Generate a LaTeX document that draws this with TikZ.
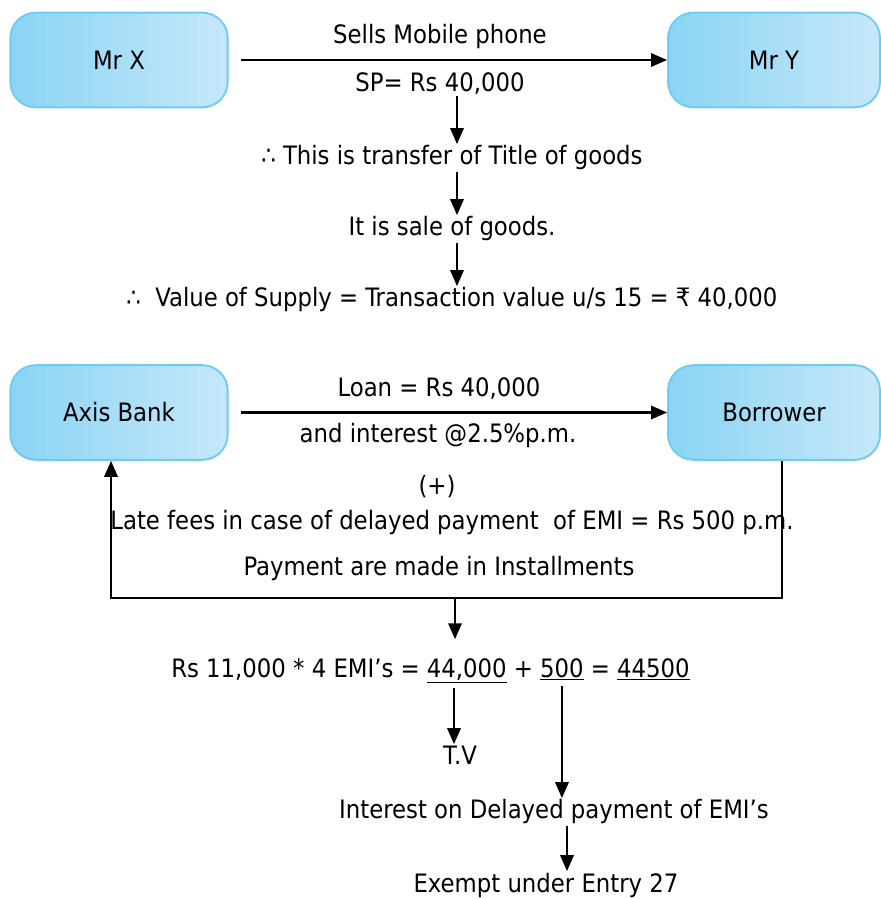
\documentclass[tikz,border=0pt]{standalone}
\usepackage{fontspec}
\setmainfont{DejaVu Sans Condensed}
\usetikzlibrary{arrows.meta,positioning,calc}
\definecolor{boxL}{HTML}{8AD4F5}
\definecolor{boxR}{HTML}{C6E8F9}
\definecolor{boxD}{HTML}{6FCCEF}
\tikzset{
  party/.style={draw=boxD, line width=1.4pt, left color=boxL, right color=boxR,
    rounded corners=19pt, minimum width=163pt, minimum height=71pt},
  txt/.style={inner sep=1pt},
  arr/.style={-{Triangle[length=12pt,width=10pt]}, line width=1.6pt},
  part/.style={inner sep=0pt, anchor=base west},
}

\begin{document}
\begin{tikzpicture}[x=0.75pt, y=-0.75pt, font=\fontsize{19}{23}\selectfont]
\useasboundingbox (0,0) rectangle (881,899);

%% Sale of mobile phone
\node[party] (mrX) at (119,60) {Mr X};
\node[party, minimum width=159pt] (mrY) at (774,60) {Mr Y};
\node[txt] (sells) at (440,37) {Sells Mobile phone};
\node[txt] (sp)    at (440,84) {SP= Rs 40,000};
\node[txt] (title) at (452,158) {∴ This is transfer of Title of goods};
\node[txt] (sale)  at (452,229) {It is sale of goods.};
\node[txt] (value) at (452,300) {∴\ \ Value of Supply = Transaction value u/s 15 = ₹ 40,000};

\coordinate (colX) at (457,0);
\draw[arr, shorten <=9pt] (mrX) -- (mrY);
\draw[arr] (sp.south -| colX) -- (title.north -| colX);
\draw[arr] (title.south -| colX) -- (sale.north -| colX);
\draw[arr] (sale.south -| colX) -- (value.north -| colX);

%% Loan from bank
\node[party] (axb) at (119,412.5) {Axis Bank};
\node[party, minimum width=159pt] (brw) at (774,412.5) {Borrower};
\node[txt] (loan) at (439,389) {Loan = Rs 40,000};
\node[txt] (intr) at (438,436) {and interest @2.5\%p.m.};
\node[txt] (plus) at (437,487) {(+)};
\node[txt] (late) at (452,523) {Late fees in case of delayed payment\ \ of EMI = Rs 500 p.m.};
\node[txt] (inst) at (439,569) {Payment are made in Installments};

\draw[arr, shorten <=9pt] (axb) -- (brw);
\coordinate (mid) at (455,598);
\draw[arr] ([xshift=6pt]brw.south) |- (mid) -| ([xshift=-6pt]axb.south);

%% EMI break-up
\node[part] (fA)   at (171,677) {Rs 11,000 * 4 EMI’s =};
\node[part] (n44)  at ([xshift=5pt]fA.base east) {\underline{44,000}};
\node[part] (fB)   at ([xshift=5pt]n44.base east) {+};
\node[part] (n500) at ([xshift=5pt]fB.base east) {\underline{500}};
\node[part] (fC)   at ([xshift=5pt]n500.base east) {=};
\node[part] (nTot) at ([xshift=5pt]fC.base east) {\underline{44500}};

\node[txt] (tv)     at (460,755) {T.V};
\node[txt] (delay)  at (554,812) {Interest on Delayed payment of EMI’s};
\node[txt] (exempt) at (546,885) {Exempt under Entry 27};

\coordinate (tvX) at (454,0);
\coordinate (exX) at (567,0);
\draw[arr, shorten >=14pt] (mid) -- (mid |- fA.north);
\draw[arr, shorten <=4pt] (n44.south -| tvX) -- (tv.north -| tvX);
\draw[arr, shorten <=4pt] (n500.south) -- (n500.south |- delay.north);
\draw[arr] (delay.south -| exX) -- (exempt.north -| exX);

\end{tikzpicture}
\end{document}
